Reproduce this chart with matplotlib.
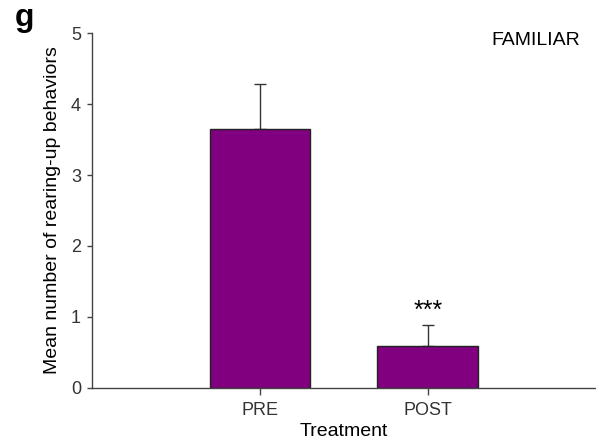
import matplotlib
matplotlib.use("Agg")
import matplotlib.pyplot as plt

plt.rcParams["font.family"] = ["Liberation Sans", "DejaVu Sans"]

categories = ["PRE", "POST"]
means = [3.65, 0.59]
errors = [0.64, 0.30]
y_ticks = [0, 1, 2, 3, 4, 5]

fig = plt.figure(figsize=(5.96, 4.48), dpi=100)
ax = fig.add_axes([0.1544, 0.1346, 0.845, 0.7911])

x = [1, 2]
ax.bar(x, means, width=0.6, color="#800080", edgecolor="#222222", linewidth=1.0, zorder=2)
ax.errorbar(x, means, yerr=[[0, 0], errors], fmt="none", ecolor="#333333",
            elinewidth=1.0, capsize=4, capthick=1.0, zorder=1)

ax.text(2, 0.98, "***", ha="center", va="baseline", fontsize=18)
ax.text(0.97, 1.005, "FAMILIAR", transform=ax.transAxes, ha="right", va="top", fontsize=14)

ax.set_xlim(0, 3)
ax.set_ylim(0, 5)
ax.set_xticks(x)
ax.set_xticklabels(categories)
ax.set_yticks(y_ticks)

for s in ["top", "right"]:
    ax.spines[s].set_visible(False)
for s in ["left", "bottom"]:
    ax.spines[s].set_color("#444444")
    ax.spines[s].set_linewidth(1.0)

ax.tick_params(axis="both", colors="#444444", labelcolor="#333333", labelsize=13, width=1.0)
ax.tick_params(axis="x", length=5, pad=5)
ax.tick_params(axis="y", length=3.5, pad=4.5)

ax.set_xlabel("Treatment", fontsize=14, labelpad=3)
ax.set_ylabel("Mean number of rearing-up behaviors", fontsize=14, labelpad=7)

fig.text(0.025, 0.942, "g", fontsize=23, fontweight="bold", va="baseline", ha="left")

fig.savefig("out.png", dpi=100)
